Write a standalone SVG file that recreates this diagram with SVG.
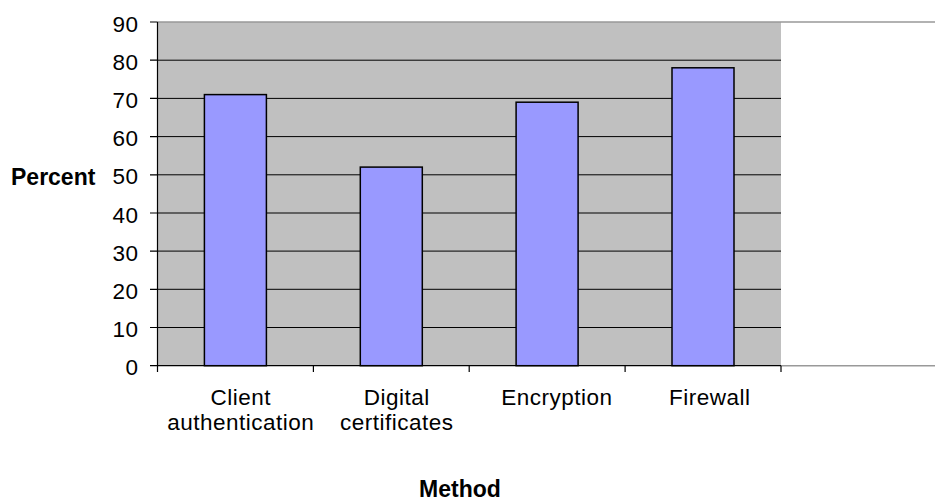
<svg xmlns="http://www.w3.org/2000/svg" width="935" height="503" viewBox="0 0 935 503">
  <style>
    .grid { stroke: #000; stroke-width: 1; }
    .edge { stroke: #999; stroke-width: 1.5; }
    .axis { stroke: #000; stroke-width: 1.2; fill: none; }
    .bar { fill: #9999FF; stroke: #000; stroke-width: 1.5; }
    .tick { font-family: "Liberation Sans", Arial, sans-serif; font-size: 22.5px; letter-spacing: 0.5px; fill: #000; }
    .ylab { text-anchor: end; }
    .cat { text-anchor: middle; }
    .title { font-family: "Liberation Sans", Arial, sans-serif; font-size: 23px; font-weight: bold; fill: #000; }
  </style>
  <rect width="935" height="503" fill="#fff"/>

  <!-- plot area -->
  <rect id="plot-area" x="157.5" y="22" width="623.5" height="343.7" fill="#C0C0C0"/>

  <!-- outer frame lines across the chart width -->
  <line class="edge" x1="157.5" y1="22" x2="935" y2="22"/>
  <line class="edge" x1="781" y1="365.7" x2="935" y2="365.7"/>

  <!-- horizontal gridlines, 10 units = 38.19px -->
  <g id="gridlines">
    <line class="grid" x1="157.5" y1="60.2" x2="781" y2="60.2"/>
    <line class="grid" x1="157.5" y1="98.4" x2="781" y2="98.4"/>
    <line class="grid" x1="157.5" y1="136.6" x2="781" y2="136.6"/>
    <line class="grid" x1="157.5" y1="174.8" x2="781" y2="174.8"/>
    <line class="grid" x1="157.5" y1="213.0" x2="781" y2="213.0"/>
    <line class="grid" x1="157.5" y1="251.1" x2="781" y2="251.1"/>
    <line class="grid" x1="157.5" y1="289.3" x2="781" y2="289.3"/>
    <line class="grid" x1="157.5" y1="327.5" x2="781" y2="327.5"/>
  </g>

  <!-- bars -->
  <g id="bar-client-authentication"><rect class="bar" x="204.4" y="94.6" width="62" height="271.1"/></g>
  <g id="bar-digital-certificates"><rect class="bar" x="360.3" y="167.1" width="62" height="198.6"/></g>
  <g id="bar-encryption"><rect class="bar" x="516.1" y="102.2" width="62" height="263.5"/></g>
  <g id="bar-firewall"><rect class="bar" x="672" y="67.8" width="62" height="297.9"/></g>

  <!-- axes and ticks -->
  <g id="axes">
    <path class="axis" d="M157.5 22 V372 M157.5 365.7 H781"/>
    <path class="axis" d="M150 22 H157.5 M150 60.2 H157.5 M150 98.4 H157.5 M150 136.6 H157.5 M150 174.8 H157.5 M150 213 H157.5 M150 251.1 H157.5 M150 289.3 H157.5 M150 327.5 H157.5 M150 365.7 H157.5"/>
    <path class="axis" d="M313.4 365.7 V372 M469.2 365.7 V372 M625.1 365.7 V372 M781 365.7 V372"/>
  </g>

  <!-- value axis labels -->
  <g id="y-labels" class="tick ylab">
    <text x="138.5" y="31.5">90</text>
    <text x="138.5" y="69.7">80</text>
    <text x="138.5" y="107.9">70</text>
    <text x="138.5" y="146.1">60</text>
    <text x="138.5" y="184.3">50</text>
    <text x="138.5" y="222.5">40</text>
    <text x="138.5" y="260.6">30</text>
    <text x="138.5" y="298.8">20</text>
    <text x="138.5" y="337">10</text>
    <text x="138.5" y="375.2">0</text>
  </g>

  <!-- category labels -->
  <g id="x-labels" class="tick cat">
    <text x="240.8" y="405">Client</text>
    <text x="240.8" y="430">authentication</text>
    <text x="396.8" y="405">Digital</text>
    <text x="396.8" y="430">certificates</text>
    <text x="556.8" y="405">Encryption</text>
    <text x="709.8" y="405">Firewall</text>
  </g>

  <!-- axis titles -->
  <text id="y-title" class="title" x="11" y="185">Percent</text>
  <text id="x-title" class="title" x="460" y="497" text-anchor="middle">Method</text>
</svg>
